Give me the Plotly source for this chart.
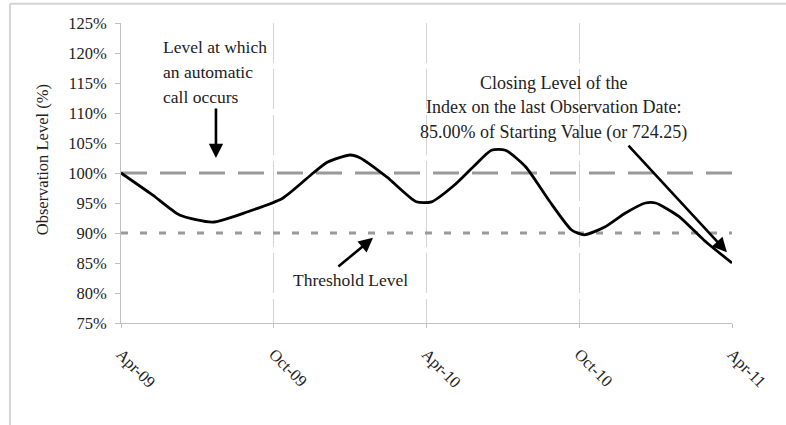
import plotly.graph_objects as go

# ---- data ----
months = [0, 1.25, 2.3, 3.6, 4.95, 6.35, 7.55, 8.1, 9.0, 9.4, 10.45, 11.6, 12.2,
          13.1, 13.9, 14.55, 15.1, 15.9, 16.8, 17.7, 18.2, 19.0, 19.8, 20.6, 21.0,
          21.9, 22.9, 24]
level = [100, 96.3, 93, 91.8, 93.5, 95.8, 100, 101.8, 103, 102.5, 99.3, 95.2, 95.2,
         98, 101.3, 103.8, 103.8, 101, 95.5, 90.5, 89.7, 91, 93.3, 95, 95,
         92.8, 88.8, 85]
tick_months = [0, 6, 12, 18, 24]
tick_labels = ["Apr-09", "Oct-09", "Apr-10", "Oct-10", "Apr-11"]
y_ticks = [75, 80, 85, 90, 95, 100, 105, 110, 115, 120, 125]
call_level = 100
threshold_level = 90

FONT = "Times New Roman, Liberation Serif, serif"
TXT = "#222222"

fig = go.Figure()
fig.add_trace(go.Scatter(x=[tick_months[0], tick_months[-1]], y=[call_level, call_level],
                         mode="lines", line=dict(color="#9a9a9a", width=3.2, dash="26px,13px"),
                         hoverinfo="skip"))
fig.add_trace(go.Scatter(x=[tick_months[0], tick_months[-1]], y=[threshold_level, threshold_level],
                         mode="lines", line=dict(color="#9a9a9a", width=2.8, dash="7px,12px"),
                         hoverinfo="skip"))
fig.add_trace(go.Scatter(x=months, y=level, mode="lines",
                         line=dict(color="black", width=2.8, shape="spline", smoothing=0.6)))

ann = []
def txt(x, y, s, xa="center", size=17.5):
    ann.append(dict(x=x, y=y, xref="x", yref="y", text=s, showarrow=False,
                    xanchor=xa, yanchor="middle", font=dict(family=FONT, size=size, color=TXT)))

def arrow(x, y, ax, ay):
    ann.append(dict(x=x, y=y, ax=ax, ay=ay, xref="x", yref="y", axref="x", ayref="y",
                    text="", showarrow=True, arrowhead=2, arrowsize=1.1, arrowwidth=2.6,
                    arrowcolor="black"))

txt(1.57, 121.0, "Level at which", "left")
txt(1.57, 116.8, "an automatic", "left")
txt(1.57, 112.7, "call occurs", "left")
arrow(3.73, 102.5, 3.73, 111.0)

txt(9.0, 82.2, "Threshold Level")
arrow(9.9, 89.2, 8.48, 84.2)

txt(16.97, 115.0, "Closing Level of the", size=18)
txt(16.97, 111.0, "Index on the last Observation Date:", size=18)
txt(16.97, 106.8, "85.00% of Starting Value (or 724.25)", size=18)
arrow(23.8, 86.8, 19.88, 104.8)

ann.append(dict(x=-0.129, y=0.543, xref="paper", yref="paper", text="Observation Level (%)",
                textangle=-90, showarrow=False, xanchor="center", yanchor="middle",
                font=dict(family=FONT, size=16.5, color=TXT)))

shapes = [
    dict(type="line", xref="paper", yref="paper", x0=-0.1817, x1=1.09, y0=1.064, y1=1.064,
         line=dict(color="#d4d4d4", width=2)),
    dict(type="line", xref="paper", yref="paper", x0=-0.1817, x1=-0.1817, y0=1.064, y1=-0.36,
         line=dict(color="#d4d4d4", width=2)),
]

fig.update_layout(
    width=786, height=425,
    margin=dict(l=121, r=54, t=23, b=102),
    plot_bgcolor="white", paper_bgcolor="white",
    showlegend=False,
    annotations=ann, shapes=shapes,
    font=dict(family=FONT, size=16, color=TXT),
    xaxis=dict(range=[tick_months[0], tick_months[-1]], tickmode="array",
               tickvals=tick_months, ticktext=tick_labels, tickangle=45,
               showgrid=True, gridcolor="#d4d4d4", gridwidth=1, griddash="40px,6px",
               showline=True, linecolor="#c0c0c0", linewidth=1,
               ticks="outside", ticklen=4, tickcolor="#c0c0c0",
               zeroline=False, tickfont=dict(family=FONT, size=16.5, color=TXT),
               ticklabelstandoff=10),
    yaxis=dict(range=[75, 125], tickmode="array", tickvals=y_ticks,
               ticktext=[f"{v}%" for v in y_ticks],
               showgrid=False, showline=True, linecolor="#c0c0c0", linewidth=1,
               ticks="outside", ticklen=5, tickcolor="#c0c0c0", zeroline=False,
               ticklabelstandoff=5,
               tickfont=dict(family=FONT, size=16.5, color=TXT)),
)

fig.write_html("out.html", config={"displayModeBar": False},
               post_script="document.body.style.margin='0';")
